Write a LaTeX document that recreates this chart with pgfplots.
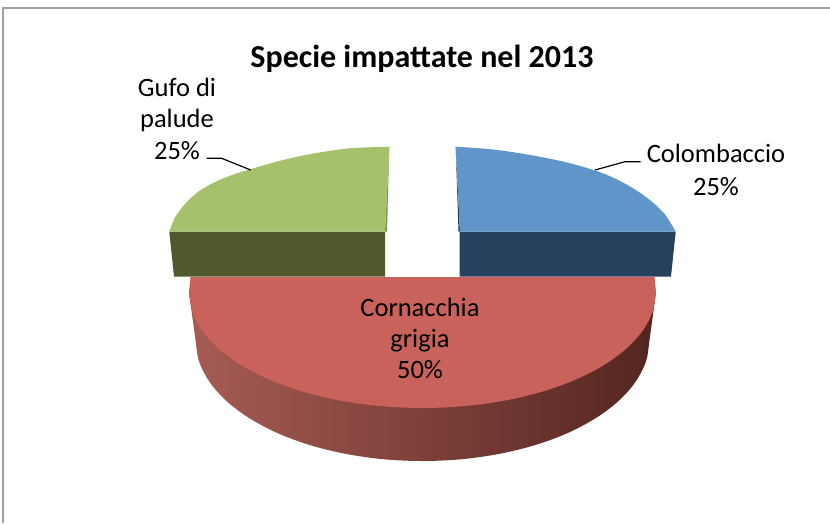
\documentclass[border=0pt]{standalone}
\usepackage{fontspec}
\setmainfont{Carlito}
\usepackage{pgfplots}
\pgfplotsset{compat=1.18}
\definecolor{gtop}{HTML}{A7C06C}
\definecolor{gside}{HTML}{50592B}
\definecolor{gedge}{HTML}{7F9350}
\definecolor{btop}{HTML}{5F95C9}
\definecolor{bside}{HTML}{27405E}
\definecolor{rtop}{HTML}{C9625B}
\definecolor{frame}{HTML}{A0A0A0}
\begin{document}
\begin{tikzpicture}
\begin{axis}[
  scale only axis, width=830pt, height=523pt,
  xmin=0, xmax=830, ymin=0, ymax=523, y dir=reverse,
  hide axis, clip=true,
]
% white chart area
\addplot[draw=none, fill=white, forget plot] coordinates {(0,0) (830,0) (830,523) (0,523)} -- cycle;
% chart frame
\addplot[frame, line width=1.8pt, forget plot] coordinates {(3,523) (3,8) (830,8)};
% Cornacchia grigia: side
\addplot[draw=none, smooth, tension=0.55, left color={rgb,255:red,166;green,92;blue,84}, middle color={rgb,255:red,134;green,66;blue,60}, right color={rgb,255:red,84;green,37;blue,31}, forget plot] coordinates {
 (189,292) (195.5,340) (198.9,361) (209.2,381.4) (225.9,400.5) (248.6,417.7) (276.6,432.7) (309,444.8) (344.9,453.7) (383.1,459.2)
 (422.5,461) (461.9,459.2) (500.1,453.7) (536,444.8) (568.4,432.7) (596.4,417.7) (619.1,400.5) (635.8,381.4) (646.1,361) (649.5,340) (656,292)
};
% Cornacchia grigia: top
\addplot[draw=none, smooth, tension=0.55, fill=rtop, forget plot] coordinates {
 (189,292) (192.5,312.1) (203.1,331.7) (220.3,350) (243.6,366.6) (272.4,380.9) (305.7,392.5) (342.6,401) (382,406.2) (422.5,408)
 (463,406.2) (502.4,401) (539.3,392.5) (572.6,380.9) (601.4,366.6) (624.7,350) (641.9,331.7) (652.5,312.1) (656,292)
};
\addplot[draw=none, fill=rtop, forget plot] coordinates {(190.5,277) (189,292) (422,350) (656,292) (654.5,277)} -- cycle;
% Gufo di palude
\addplot[draw=none, fill=gedge, forget plot] coordinates {(389.3,146.7) (385,231.7) (387,231.7)} -- cycle;
\addplot[draw=none, fill=gside, forget plot] coordinates {(169.3,231.7) (385,231.7) (385,276.5) (174,276.5)} -- cycle;
\addplot[draw=none, smooth, tension=0.55, fill=gtop, forget plot] coordinates {
 (389.3,146.7) (350,148.3) (316.7,153) (285,159.5) (251,169) (231.7,175.2) (215,182) (198.3,191.7) (185,204) (175,217.5) (169.3,231.7)
};
\addplot[draw=none, fill=gtop, forget plot] coordinates {(389.3,146.7) (260,175) (169.3,231.7) (385,231.7)} -- cycle;
% Colombaccio
\addplot[draw=none, fill=bside, forget plot] coordinates {(455.7,146.7) (460,231.7) (458.5,231.7)} -- cycle;
\addplot[draw=none, fill=bside, forget plot] coordinates {(459.5,231.7) (675.7,231.7) (671,276.5) (459.5,276.5)} -- cycle;
\addplot[draw=none, smooth, tension=0.55, fill=btop, forget plot] coordinates {
 (455.7,146.7) (493.3,149.5) (530,155) (565,162) (595,170.5) (615,178.5) (635,189.5) (651.7,201.5) (665,214.5) (675.7,231.7)
};
\addplot[draw=none, fill=btop, forget plot] coordinates {(455.7,146.7) (605,183) (675.7,231.7) (460,231.7)} -- cycle;
% leader lines
\addplot[black, line width=1.2pt, forget plot] coordinates {(206.7,158.3) (221.7,158.3) (250.7,170)};
\addplot[black, line width=1.2pt, forget plot] coordinates {(595,170) (625,161.7) (640.7,161.7)};
% labels
\node[font=\fontsize{32}{38}\selectfont\bfseries, anchor=center] at (axis cs:422,58.5) {Specie impattate nel 2013};
\node[font=\fontsize{26.5}{31.5}\selectfont, align=center, anchor=center] at (axis cs:177,118.5) {Gufo di\\palude\\25\%};
\node[font=\fontsize{26.5}{33}\selectfont, align=center, anchor=center] at (axis cs:716,169.5) {Colombaccio\\25\%};
\node[font=\fontsize{26.5}{31}\selectfont, align=center, anchor=center] at (axis cs:420,338) {Cornacchia\\grigia\\50\%};
\end{axis}
\end{tikzpicture}
\end{document}
